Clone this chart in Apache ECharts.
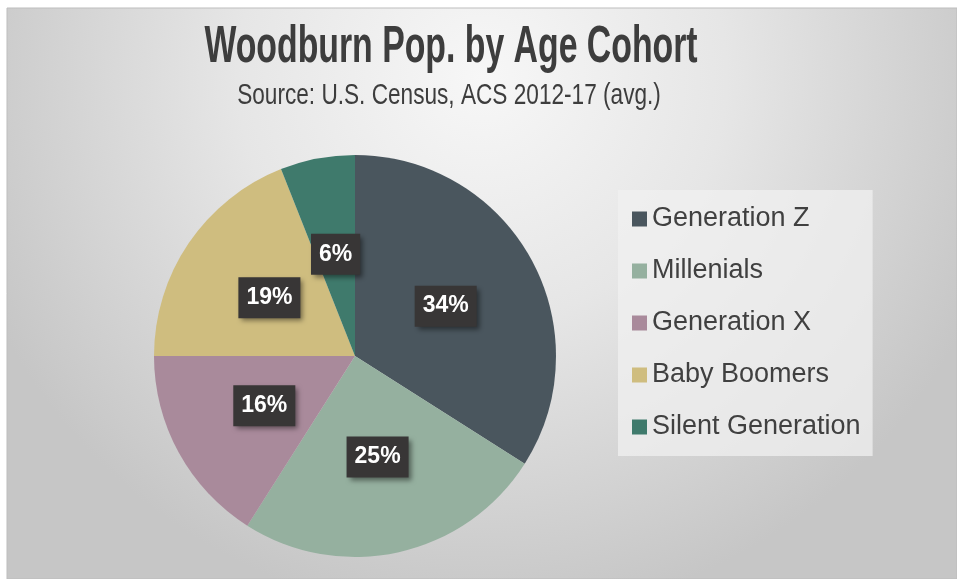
<!DOCTYPE html>
<html>
<head>
<meta charset="utf-8">
<script src="https://cdn.jsdelivr.net/npm/echarts@6/dist/echarts.min.js"></script>
<style>
html, body { margin: 0; padding: 0; background: #ffffff; }
#chart { width: 957px; height: 579px; }
</style>
</head>
<body>
<div id="chart"></div>
<script>
// age cohorts, share of population (%)
var cohorts = ['Generation Z', 'Millenials', 'Generation X', 'Baby Boomers', 'Silent Generation'];
var shares = [34, 25, 16, 19, 6];
var cohortColors = ['#4a565e', '#95b09f', '#a98a9b', '#cfbd7f', '#3f7a6c'];

var titleText = 'Woodburn Pop. by Age Cohort';
var subText = 'Source: U.S. Census, ACS 2012-17 (avg.)';

var sans = '"Liberation Sans", Arial, sans-serif';

var chart = echarts.init(document.getElementById('chart'));

chart.setOption({
    animation: false,
    graphic: [{
        type: 'rect',
        z: -10,
        silent: true,
        shape: { x: 7, y: 8, width: 950, height: 571 },
        style: {
            fill: {
                type: 'radial', x: 0.5, y: 0.12, r: 0.95,
                colorStops: [
                    { offset: 0, color: '#f7f7f7' },
                    { offset: 0.45, color: '#e6e6e6' },
                    { offset: 1, color: '#c6c6c6' }
                ]
            },
            stroke: '#bdbdbd',
            lineWidth: 1
        }
    }, {
        // title, squeezed to look like a narrow face
        type: 'text',
        x: 451,
        y: 22,
        scaleX: 0.65,
        silent: true,
        style: {
            text: titleText,
            font: 'bold 52px ' + sans,
            fill: '#3d3d3d',
            align: 'center',
            verticalAlign: 'top'
        }
    }, {
        type: 'text',
        x: 449,
        y: 81,
        scaleX: 0.78,
        silent: true,
        style: {
            text: subText,
            font: '29px ' + sans,
            fill: '#3d3d3d',
            align: 'center',
            verticalAlign: 'top'
        }
    }],
    legend: {
        orient: 'vertical',
        left: 618,
        top: 190,
        padding: [14, 12, 14, 14],
        backgroundColor: 'rgba(240,240,240,0.75)',
        icon: 'rect',
        itemWidth: 15,
        itemHeight: 15,
        itemGap: 22,
        data: cohorts,
        textStyle: { fontFamily: sans, fontSize: 27, color: '#404040', lineHeight: 30 }
    },
    series: [{
        type: 'pie',
        center: [355, 356],
        radius: 201,
        startAngle: 90,
        clockwise: true,
        color: cohortColors,
        itemStyle: { borderWidth: 0 },
        label: {
            position: 'inside',
            formatter: '{c}%',
            fontFamily: sans,
            fontSize: 23,
            fontWeight: 'bold',
            color: '#ffffff',
            backgroundColor: '#383636',
            padding: [10, 8, 8, 8],
            shadowColor: 'rgba(0,0,0,0.45)',
            shadowBlur: 5,
            shadowOffsetX: 3,
            shadowOffsetY: 3
        },
        labelLine: { show: false },
        data: cohorts.map(function (name, i) {
            return { name: name, value: shares[i] };
        })
    }]
});
</script>
</body>
</html>
